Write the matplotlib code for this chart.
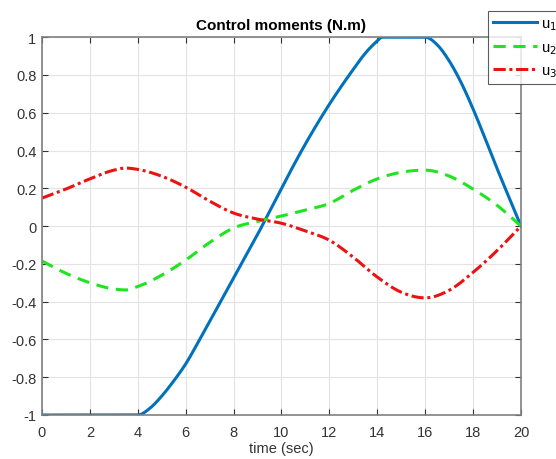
import numpy as np
import matplotlib
matplotlib.use('Agg')
import matplotlib.pyplot as plt

# values
t1 = [0, 4, 4.5, 5, 5.5, 6, 6.5, 7, 7.5, 8, 8.5, 9, 9.5, 10, 10.5, 11, 11.5, 12, 12.5, 13,
      13.5, 14, 14.2, 16, 16.5, 17, 17.5, 18, 18.5, 19, 19.5, 20]
u1 = [-1, -1, -0.965, -0.90, -0.82, -0.73, -0.62, -0.505, -0.39, -0.275, -0.16, -0.045, 0.078,
      0.2, 0.32, 0.435, 0.543, 0.645, 0.74, 0.83, 0.915, 0.98, 1, 1, 0.96, 0.875, 0.76, 0.62,
      0.465, 0.305, 0.152, 0]

t2 = [0, 1, 2, 3, 3.5, 4, 5, 6, 7, 8, 9, 10, 11, 12, 13, 14, 15, 16, 17, 18, 19, 20]
u2 = [-0.185, -0.25, -0.30, -0.333, -0.338, -0.32, -0.26, -0.18, -0.087, -0.01, 0.025, 0.053,
      0.085, 0.12, 0.19, 0.25, 0.285, 0.296, 0.265, 0.196, 0.11, 0]

t3 = [0, 1, 2, 3, 3.5, 4, 5, 6, 7, 8, 9, 10, 11, 12, 13, 14, 15, 16, 17, 18, 19, 20]
u3 = [0.148, 0.196, 0.25, 0.296, 0.307, 0.30, 0.264, 0.206, 0.132, 0.069, 0.037, 0.015,
      -0.026, -0.075, -0.165, -0.27, -0.35, -0.38, -0.34, -0.245, -0.13, 0]

xticks = np.arange(0, 21, 2)
yticks = [-1, -0.8, -0.6, -0.4, -0.2, 0, 0.2, 0.4, 0.6, 0.8, 1]
ytick_labels = ['-1', '-0.8', '-0.6', '-0.4', '-0.2', '0', '0.2', '0.4', '0.6', '0.8', '1']


def smooth(t, u, n=500):
    # piecewise cubic hermite through the read points, slopes zeroed at extrema
    t = np.asarray(t, float)
    u = np.asarray(u, float)
    tt = np.linspace(t[0], t[-1], n)
    h = np.diff(t)
    d = np.diff(u) / h
    m = np.zeros_like(u)
    m[0], m[-1] = d[0], d[-1]
    for i in range(1, len(u) - 1):
        if d[i - 1] * d[i] <= 0:
            m[i] = 0
        else:
            m[i] = (h[i - 1] * d[i] + h[i] * d[i - 1]) / (h[i - 1] + h[i])
    idx = np.clip(np.searchsorted(t, tt) - 1, 0, len(h) - 1)
    s = (tt - t[idx]) / h[idx]
    h00 = 2 * s**3 - 3 * s**2 + 1
    h10 = s**3 - 2 * s**2 + s
    h01 = -2 * s**3 + 3 * s**2
    h11 = s**3 - s**2
    uu = h00 * u[idx] + h10 * h[idx] * m[idx] + h01 * u[idx + 1] + h11 * h[idx] * m[idx + 1]
    return tt, uu


plt.rcParams['font.family'] = ['Liberation Sans', 'DejaVu Sans']

fig = plt.figure(figsize=(5.56, 4.6), dpi=100)
ax = fig.add_axes([0.0755, 0.0957, 0.8615, 0.8213])

ax.plot(*smooth(t1, u1), color='#0072BD', lw=2.2, label='u$_1$')
ax.plot(*smooth(t2, u2), color='#1EE61E', lw=2.2, ls=(0, (4, 2.5)), label='u$_2$')
ax.plot(*smooth(t3, u3), color='#EE1111', lw=2.2, ls=(0, (4, 1.2, 1, 1.2)), label='u$_3$')

ax.set_xlim(0, 20)
ax.set_ylim(-1, 1)
ax.set_xticks(xticks)
ax.set_yticks(yticks)
ax.set_yticklabels(ytick_labels)
ax.grid(True, color='#E3E3E3', lw=0.8)
ax.tick_params(direction='in', length=4, colors='#333333', labelsize=10.5, top=True, right=True,
               labeltop=False, labelright=False, pad=4)
ax.tick_params(axis='x', pad=7)
for sp in ax.spines.values():
    sp.set_color('#808080')
    sp.set_linewidth(1.2)

ax.set_title('Control moments (N.m)', fontsize=11, fontweight='bold', pad=6)
ax.set_xlabel('time (sec)', fontsize=10.5, color='#333333', labelpad=2)

leg = fig.legend(loc='upper left', bbox_to_anchor=(488 / 556, 1 - 12 / 460), fontsize=10.5,
                 frameon=True, fancybox=False, handlelength=3.0, borderaxespad=0,
                 handletextpad=0.3, labelspacing=0.55, borderpad=0.35)
leg.get_frame().set_edgecolor('#333333')
leg.get_frame().set_linewidth(0.8)

fig.savefig('out.png', dpi=100)
